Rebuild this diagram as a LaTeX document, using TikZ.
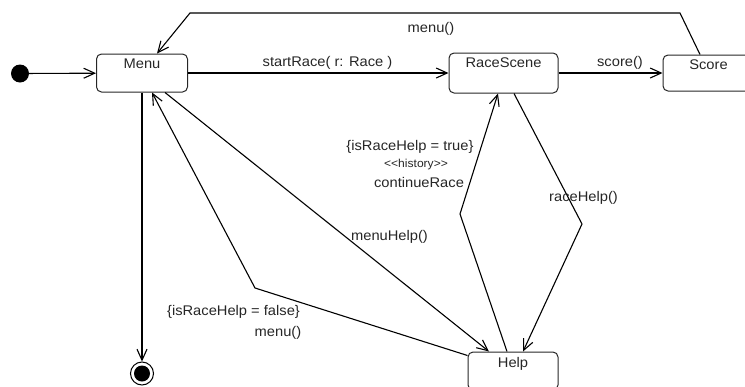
\documentclass[tikz,border=0pt]{standalone}
\usepackage{fontspec}
\setmainfont{Liberation Sans}[FakeStretch=1.05]
\usetikzlibrary{arrows.meta}
\tikzset{
  statebox/.style={draw=black!85, line width=1pt, rounded corners=5pt, inner sep=0pt},
  boxname/.style={anchor=north, inner sep=0pt, text=black!85, font=\fontsize{14}{16}\selectfont},
  lbl/.style={inner sep=0pt, text=black!85, font=\fontsize{14}{16}\selectfont},
  small/.style={inner sep=0pt, text=black!85, font=\fontsize{11.5}{13}\selectfont},
  conn/.style={line width=1.1pt, -{Straight Barb[length=11pt,width=10pt,line width=1.1pt]}},
}
\begin{document}
\begin{tikzpicture}[x=1pt,y=-1pt]
\useasboundingbox (0,0) rectangle (745,386);
% states
\node[circle, fill, minimum size=18pt, inner sep=0pt] (init) at (20,73.5) {};
\node[statebox, minimum width=91pt, minimum height=38pt] (menu) at (142,73) {};
\node[boxname] (menuT) at ([yshift=-5.5pt]menu.north) {Menu};
\node[statebox, minimum width=109pt, minimum height=40pt] (race) at (503.5,73) {};
\node[boxname] (raceT) at ([yshift=-5.5pt]race.north) {RaceScene};
\node[statebox, minimum width=91pt, minimum height=36pt] (score) at (708.5,73) {};
\node[boxname] (scoreT) at ([yshift=-5.5pt]score.north) {Score};
\node[statebox, minimum width=90pt, minimum height=38pt] (help) at (513,371) {};
\node[boxname] (helpT) at ([yshift=-5.5pt]help.north) {Help};
\node[circle, draw, line width=1pt, minimum size=23pt, inner sep=0pt] (final) at (142,373.5) {};
\node[circle, fill, minimum size=16pt, inner sep=0pt] (finalin) at (final) {};
% bend points
\coordinate (b1) at (680,13);
\coordinate (b2) at (190,13);
\coordinate (b3) at (255,288);
\coordinate (b4) at (582,224);
\coordinate (b5) at (460,214);
% connectors
\draw[conn] (init) -- (menu);
\draw[conn] (menu.east) -- (race.west);
\draw[conn] (race.east) -- (score.west);
\draw[conn] ([xshift=-8.5pt]score.north) -- (b1) -- (b2) -- ([xshift=15pt]menu.north);
\draw[conn] (menu.south) -- (final.north);
\draw[conn] ([yshift=-4pt]help.north west) -- (b3) -- ([xshift=10pt]menu.south);
\draw[conn] ([xshift=23pt]menu.south) -- ([xshift=-24pt]help.north);
\draw[conn] ([xshift=10.5pt]race.south) -- (b4) -- ([xshift=10pt]help.north);
\draw[conn] ([xshift=-6pt]help.north) -- (b5) -- ([xshift=-5.5pt]race.south);
% labels
\node[lbl] (l1) at (327.5,63) {startRace( r: Race )};
\node[lbl] (l2) at (620,63) {score()};
\node[lbl] (l3) at (431,29) {menu()};
\node[lbl] (l4) at (410,147) {\{isRaceHelp = true\}};
\node[small] (l5) at (416,165) {<{}<history>{}>};
\node[lbl] (l6) at (419,182) {continueRace};
\node[lbl] (l7) at (389.5,237) {menuHelp()};
\node[lbl] (l8) at (583.5,198) {raceHelp()};
\node[lbl] (l9) at (233.5,312) {\{isRaceHelp = false\}};
\node[lbl] (l10) at (278,333) {menu()};
\end{tikzpicture}
\end{document}
